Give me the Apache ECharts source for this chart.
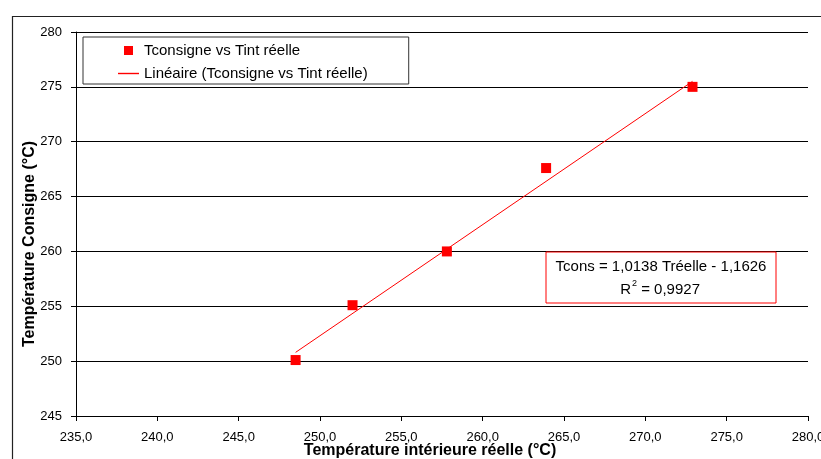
<!DOCTYPE html>
<html>
<head>
<meta charset="utf-8">
<script src="https://cdn.jsdelivr.net/npm/echarts@6/dist/echarts.min.js"></script>
<style>
html,body{margin:0;padding:0;background:#fff;}
#chart{width:821px;height:459px;}
</style>
</head>
<body>
<div id="chart"></div>
<script>
// Data
const tInterieure = [248.5, 252.0, 257.8, 263.9, 272.9];
const tConsigne   = [250.1, 255.1, 260.0, 267.6, 275.0];
const trendX = [248.5, 272.9];
const trendY = [250.8, 275.5];
const xTicks = { min: 235, max: 280, step: 5 };
const yTicks = { min: 245, max: 280, step: 5 };
const scatterName = 'Tconsigne vs Tint réelle';
const trendName = 'Linéaire (Tconsigne vs Tint réelle)';
const xTitle = 'Température intérieure réelle (°C)';
const yTitle = 'Température Consigne (°C)';
const eqLine1 = 'Tcons = 1,0138 Tréelle - 1,1626';

const FONT = "'Liberation Sans', Arial, sans-serif";
const chart = echarts.init(document.getElementById('chart'));

const scatterData = tInterieure.map((x, i) => [x, tConsigne[i]]);
const trendData = trendX.map((x, i) => [x, trendY[i]]);

chart.setOption({
  animation: false,
  backgroundColor: '#ffffff',
  textStyle: { fontFamily: FONT, color: '#000' },
  grid: { left: 76, right: 13, top: 32, bottom: 43, containLabel: false, outerBoundsMode: 'none' },
  legend: {
    orient: 'vertical',
    left: 83, top: 37,
    backgroundColor: '#fff',
    borderColor: '#333', borderWidth: 1,
    padding: [6, 41, 3, 35],
    itemWidth: 21, itemHeight: 9, itemGap: 8,
    symbolKeepAspect: true,
    textStyle: { fontSize: 15, color: '#000', fontFamily: FONT },
    data: [
      { name: scatterName, icon: 'path://M0,0h9v9h-9z',
        itemStyle: { color: '#ff0000', borderWidth: 0 } },
      { name: trendName, icon: 'path://M0,0h21v1.4h-21z',
        itemStyle: { color: '#ff0000', borderColor: '#ff0000', borderWidth: 0 },
        lineStyle: { color: '#ff0000', width: 0 } }
    ]
  },
  xAxis: {
    type: 'value',
    min: xTicks.min, max: xTicks.max, interval: xTicks.step,
    axisLine: { show: true, lineStyle: { color: '#000', width: 1 } },
    axisTick: { show: true, length: 5, lineStyle: { color: '#000' } },
    axisLabel: { fontSize: 13, color: '#000', margin: 15, fontFamily: FONT,
      formatter: v => v.toFixed(1).replace('.', ',') },
    splitLine: { show: false }
  },
  yAxis: {
    type: 'value',
    min: yTicks.min, max: yTicks.max, interval: yTicks.step,
    axisLine: { show: true, lineStyle: { color: '#000', width: 1 } },
    axisTick: { show: true, length: 5, lineStyle: { color: '#000' } },
    axisLabel: { fontSize: 13, color: '#000', margin: 14, fontFamily: FONT },
    splitLine: { show: true, lineStyle: { color: '#000', width: 1 } }
  },
  series: [
    {
      name: scatterName,
      type: 'scatter',
      symbol: 'rect',
      symbolSize: 10,
      itemStyle: { color: '#ff0000', opacity: 1 },
      data: scatterData,
      z: 3
    },
    {
      name: trendName,
      type: 'line',
      symbol: 'none',
      showSymbol: false,
      color: '#ff0000',
      lineStyle: { color: '#ff0000', width: 1 },
      itemStyle: { color: '#ff0000' },
      data: trendData,
      z: 2
    }
  ],
  graphic: [
    { type: 'rect', left: 10, top: 14, z: -10, silent: true,
      shape: { x: 0, y: 0, width: 830, height: 470 },
      style: { fill: 'none', stroke: '#222', lineWidth: 1.2 } },
    { type: 'text', x: 430, y: 451, silent: true,
      style: { text: xTitle, font: "bold 16px " + FONT, fill: '#000',
        textAlign: 'center', textVerticalAlign: 'middle' } },
    { type: 'text', x: 30, y: 244, rotation: Math.PI / 2, silent: true,
      style: { text: yTitle, font: "bold 16px " + FONT, fill: '#000',
        textAlign: 'center', textVerticalAlign: 'middle' } },
    { type: 'rect', x: 546, y: 252, z: 50, silent: true,
      shape: { x: 0, y: 0, width: 230, height: 51 },
      style: { fill: '#fff', stroke: '#ff0000', lineWidth: 1 } },
    { type: 'text', x: 661, y: 267, z: 51, silent: true,
      style: { text: eqLine1, font: "15px " + FONT, fill: '#000',
        textAlign: 'center', textVerticalAlign: 'middle' } },
    { type: 'text', x: 631, y: 290, z: 51, silent: true,
      style: { text: 'R', font: "15px " + FONT, fill: '#000',
        textAlign: 'right', textVerticalAlign: 'middle' } },
    { type: 'text', x: 632, y: 284, z: 51, silent: true,
      style: { text: '2', font: "9px " + FONT, fill: '#000',
        textAlign: 'left', textVerticalAlign: 'middle' } },
    { type: 'text', x: 637, y: 290, z: 51, silent: true,
      style: { text: ' = 0,9927', font: "15px " + FONT, fill: '#000',
        textAlign: 'left', textVerticalAlign: 'middle' } }
  ]
});
</script>
</body>
</html>
